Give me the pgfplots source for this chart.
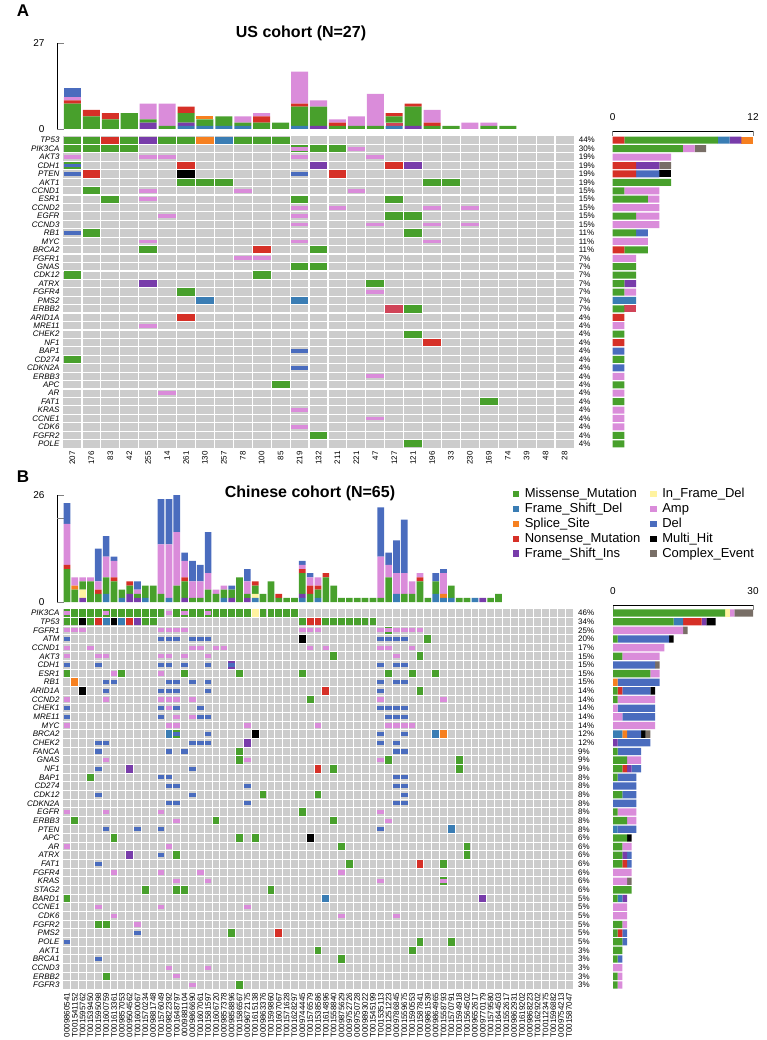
\documentclass[border=0pt]{standalone}
\usepackage{fontspec}
\setmainfont{Liberation Sans}
\usepackage{pgfplots}
\usepackage{pgfplotstable}
\pgfplotsset{compat=1.18}

\definecolor{mis}{RGB}{72,160,44}
\definecolor{fsd}{RGB}{58,125,180}
\definecolor{spl}{RGB}{246,128,32}
\definecolor{non}{RGB}{214,48,39}
\definecolor{fsi}{RGB}{120,60,170}
\definecolor{ifd}{RGB}{255,243,160}
\definecolor{amp}{RGB}{218,140,218}
\definecolor{del}{RGB}{74,108,190}
\definecolor{mul}{RGB}{0,0,0}
\definecolor{cpx}{RGB}{120,110,102}
\definecolor{crim}{RGB}{208,68,88}
\definecolor{cellgray}{RGB}{204,204,204}

% cell shapes for the two matrices (full cell = SNV, thin bar = CNV)
\pgfdeclareplotmark{cellA}{\pgfpathrectangle{\pgfpoint{-8.85pt}{-3.65pt}}{\pgfpoint{17.7pt}{7.3pt}}\pgfusepathqfill}
\pgfdeclareplotmark{cnvA}{\pgfpathrectangle{\pgfpoint{-8.85pt}{-1.9pt}}{\pgfpoint{17.7pt}{3.8pt}}\pgfusepathqfill}
\pgfdeclareplotmark{cellB}{\pgfpathrectangle{\pgfpoint{-3.4pt}{-3.8pt}}{\pgfpoint{6.8pt}{7.6pt}}\pgfusepathqfill}
\pgfdeclareplotmark{cnvB}{\pgfpathrectangle{\pgfpoint{-3.3pt}{-2.1pt}}{\pgfpoint{6.6pt}{4.2pt}}\pgfusepathqfill}

\pgfplotsset{
  /pgf/number format/assume math mode=true,
  mat/.style={scale only axis, axis background/.style={fill=cellgray},
    axis line style={draw=none}, tick style={draw=none},
    major tick length=0pt, minor tick length=0pt,
    xminorgrids=true, yminorgrids=true, xmajorgrids=false, ymajorgrids=false,
    minor grid style={white, line width=1.1pt},
    yticklabel style={font=\fontsize{8}{9.6}\selectfont\itshape},
    xticklabel style={font=\fontsize{8}{9.6}\selectfont, rotate=90, anchor=east}},
  topbar/.style={scale only axis, ybar stacked, axis x line=none, axis y line*=left,
    every non boxed y axis/.append style={ytick align=outside},
    major tick length=7pt, y axis line style={line width=0.9pt}, ytick style={line width=0.9pt},
    yticklabel style={font=\fontsize{10}{12}\selectfont, xshift=-9pt}},
  rbar/.style={scale only axis, xbar stacked, axis x line*=top, axis y line*=left,
    every non boxed x axis/.append style={xtick align=outside},
    every non boxed y axis/.append style={ytick align=inside},
    y axis line style={draw=none}, ytick style={draw=none},
    major tick length=5pt, x axis line style={line width=0.9pt}, xtick style={line width=0.9pt},
    xticklabel style={font=\fontsize{10}{12}\selectfont, yshift=7pt},
    yticklabel style={font=\fontsize{8}{9.6}\selectfont, anchor=west}},
}

\pgfplotstableread{
c fsd fsi crim mis non spl amp del
1 0 0 0 8 1 0 1 3
2 0 0 0 4 2 0 0 0
3 0 0 0 3 2 0 0 0
4 0 0 0 5 0 0 0 0
5 0 2 0 1 0 0 5 0
6 0 0 0 1 0 0 7 0
7 1 1 0 3 2 0 0 0
8 1 0 0 2 0 1 0 0
9 1 0 0 3 0 0 0 0
10 1 0 0 1 0 0 2 0
11 0 0 0 2 2 0 1 0
12 0 0 0 2 0 0 0 0
13 1 0 0 6 1 0 10 0
14 0 1 0 6 0 0 2 0
15 0 0 0 1 1 0 1 0
16 0 0 0 1 0 0 3 0
17 0 0 0 1 0 0 10 0
18 1 0 1 2 1 0 0 0
19 0 1 0 6 1 0 0 0
20 0 0 0 1 1 0 4 0
21 0 0 0 1 0 0 0 0
22 0 0 0 0 0 0 2 0
23 0 0 0 1 0 0 1 0
24 0 0 0 1 0 0 0 0
25 0 0 0 0 0 0 0 0
26 0 0 0 0 0 0 0 0
27 0 0 0 0 0 0 0 0
}\topA

\pgfplotstableread{
r non mis crim fsd fsi spl amp del mul cpx
1 1 8 0 1 1 1 0 0 0 0
2 0 6 0 0 0 0 1 0 0 1
3 0 0 0 0 0 0 5 0 0 0
4 2 0 0 0 2 0 0 0 0 1
5 2 0 0 0 0 0 0 2 1 0
6 0 5 0 0 0 0 0 0 0 0
7 0 1 0 0 0 0 3 0 0 0
8 0 3 0 0 0 0 1 0 0 0
9 0 0 0 0 0 0 4 0 0 0
10 0 2 0 0 0 0 2 0 0 0
11 0 0 0 0 0 0 4 0 0 0
12 0 2 0 0 0 0 0 1 0 0
13 0 0 0 0 0 0 3 0 0 0
14 1 2 0 0 0 0 0 0 0 0
15 0 0 0 0 0 0 2 0 0 0
16 0 2 0 0 0 0 0 0 0 0
17 0 2 0 0 0 0 0 0 0 0
18 0 1 0 0 1 0 0 0 0 0
19 0 1 0 0 0 0 1 0 0 0
20 0 0 0 2 0 0 0 0 0 0
21 0 1 1 0 0 0 0 0 0 0
22 1 0 0 0 0 0 0 0 0 0
23 0 0 0 0 0 0 1 0 0 0
24 0 1 0 0 0 0 0 0 0 0
25 1 0 0 0 0 0 0 0 0 0
26 0 0 0 0 0 0 0 1 0 0
27 0 1 0 0 0 0 0 0 0 0
28 0 0 0 0 0 0 0 1 0 0
29 0 0 0 0 0 0 1 0 0 0
30 0 1 0 0 0 0 0 0 0 0
31 0 0 0 0 0 0 1 0 0 0
32 0 1 0 0 0 0 0 0 0 0
33 0 0 0 0 0 0 1 0 0 0
34 0 0 0 0 0 0 1 0 0 0
35 0 0 0 0 0 0 1 0 0 0
36 0 1 0 0 0 0 0 0 0 0
37 0 1 0 0 0 0 0 0 0 0
}\rbA

\pgfplotstableread{
c fsd fsi ifd mis non spl amp del
1 0 0 0 8 1 0 10 5
2 0 0 0 3 0 1 2 0
3 0 1 2 2 0 0 1 0
4 0 0 0 5 0 0 1 0
5 0 0 0 2 1 0 2 8
6 2 0 0 4 0 0 5 5
7 0 0 0 5 1 0 4 1
8 1 0 0 2 0 0 0 0
9 0 2 0 2 1 0 0 0
10 0 1 0 1 0 0 1 2
11 1 0 0 3 0 0 0 0
12 0 0 0 4 0 0 0 0
13 0 0 0 2 0 0 12 11
14 1 0 0 0 0 0 13 11
15 0 0 0 4 0 0 13 9
16 0 1 0 4 1 0 4 2
17 0 0 0 1 0 0 4 5
18 0 0 0 1 0 0 4 4
19 0 0 0 3 0 0 4 10
20 0 0 0 2 0 0 1 0
21 1 0 0 2 0 0 1 0
22 0 1 0 2 0 0 0 1
23 0 0 0 6 0 0 0 0
24 0 1 0 1 0 0 3 3
25 1 0 1 2 1 0 0 0
26 0 0 0 2 0 0 0 0
27 0 0 0 5 0 0 0 0
28 0 0 0 1 1 0 0 0
29 0 0 0 1 0 0 0 0
30 0 0 0 1 0 0 0 0
31 1 1 0 5 1 0 1 1
32 0 0 0 2 2 0 2 1
33 1 0 0 2 1 0 2 0
34 0 0 0 6 1 0 0 0
35 0 0 0 4 0 0 0 0
36 0 0 0 1 0 0 0 0
37 0 0 0 1 0 0 0 0
38 0 0 0 1 0 0 0 0
39 0 0 0 1 0 0 0 0
40 0 0 0 1 0 0 0 0
41 0 0 0 1 0 0 10 12
42 0 0 0 6 0 0 3 3
43 2 0 0 0 0 0 5 8
44 0 0 0 2 0 0 5 13
45 0 0 0 2 0 0 3 0
46 0 0 0 5 1 0 1 0
47 0 0 0 1 0 0 0 0
48 2 0 0 3 0 0 0 2
49 1 0 0 0 0 1 5 1
50 1 0 0 3 0 0 0 0
51 0 0 0 1 0 0 0 0
52 0 0 0 1 0 0 0 0
53 1 0 0 0 0 0 0 0
54 0 1 0 0 0 0 0 0
55 0 0 0 1 0 0 0 0
56 0 0 0 2 0 0 0 0
57 0 0 0 0 0 0 0 0
58 0 0 0 0 0 0 0 0
59 0 0 0 0 0 0 0 0
60 0 0 0 0 0 0 0 0
61 0 0 0 0 0 0 0 0
62 0 0 0 0 0 0 0 0
63 0 0 0 0 0 0 0 0
64 0 0 0 0 0 0 0 0
65 0 0 0 0 0 0 0 0
}\topB

\pgfplotstableread{
r mis fsd spl non fsi ifd amp del mul cpx
1 24 0 0 0 0 1 1 0 0 4
2 13 2 0 4 1 0 0 0 2 0
3 0 0 0 0 0 0 15 0 0 1
4 1 0 0 0 0 0 0 11 1 0
5 0 0 0 0 0 0 11 0 0 0
6 2 0 0 0 0 0 8 0 0 0
7 0 0 0 0 0 0 0 9 0 1
8 8 0 0 0 0 0 2 0 0 0
9 0 0 1 0 0 0 0 9 0 0
10 1 0 0 1 0 0 0 6 1 0
11 1 0 0 0 0 0 8 0 0 0
12 0 0 0 0 0 0 1 8 0 0
13 0 0 0 0 0 0 2 7 0 0
14 0 0 0 0 0 0 9 0 0 0
15 0 2 1 0 0 0 0 3 1 1
16 0 0 0 0 1 0 0 7 0 0
17 1 0 0 0 0 0 0 5 0 0
18 3 0 0 0 0 0 3 0 0 0
19 2 0 0 1 1 0 0 2 0 0
20 1 0 0 0 0 0 0 4 0 0
21 0 0 0 0 0 0 0 5 0 0
22 2 0 0 0 0 0 0 3 0 0
23 0 0 0 0 0 0 0 5 0 0
24 1 0 0 0 0 0 4 0 0 0
25 3 0 0 0 0 0 2 0 0 0
26 0 1 0 0 0 0 0 4 0 0
27 3 0 0 0 0 0 0 0 1 0
28 2 0 0 0 0 0 2 0 0 0
29 2 0 0 0 1 0 0 1 0 0
30 2 0 0 1 0 0 0 1 0 0
31 0 0 0 0 0 0 4 0 0 0
32 0 0 0 0 0 0 3 0 0 1
33 4 0 0 0 0 0 0 0 0 0
34 1 1 0 0 1 0 0 0 0 0
35 0 0 0 0 0 0 3 0 0 0
36 0 0 0 0 0 0 3 0 0 0
37 2 0 0 0 0 0 1 0 0 0
38 1 0 0 1 0 0 0 1 0 0
39 2 0 0 0 0 0 0 1 0 0
40 2 0 0 0 0 0 0 0 0 0
41 1 0 0 0 0 0 0 1 0 0
42 0 0 0 0 0 0 2 0 0 0
43 1 0 0 0 0 0 1 0 0 0
44 1 0 0 0 0 0 1 0 0 0
}\rbB

\begin{document}
\begin{tikzpicture}
\useasboundingbox (0pt,0pt) rectangle (766pt,-1040pt);

% ---------------- panel A ----------------
\node[font=\bfseries\fontsize{17}{20}\selectfont] at (23pt,-11pt) {A};
\node[font=\bfseries\fontsize{16}{19}\selectfont] at (301pt,-33pt) {US cohort (N=27)};

\begin{axis}[topbar, at={(57pt,-129pt)}, anchor=south west, width=517pt, height=86pt,
  xmin=0.183, xmax=27.5, ymin=0, ymax=27, ytick={0,27}, bar width=0.9]
\addplot[fill=fsd, draw=none] table[x=c,y=fsd]{\topA};
\addplot[fill=fsi, draw=none] table[x=c,y=fsi]{\topA};
\addplot[fill=crim, draw=none] table[x=c,y=crim]{\topA};
\addplot[fill=mis, draw=none] table[x=c,y=mis]{\topA};
\addplot[fill=non, draw=none] table[x=c,y=non]{\topA};
\addplot[fill=spl, draw=none] table[x=c,y=spl]{\topA};
\addplot[fill=amp, draw=none] table[x=c,y=amp]{\topA};
\addplot[fill=del, draw=none] table[x=c,y=del]{\topA};
\end{axis}

\begin{axis}[mat, at={(63pt,-136pt)}, anchor=north west, width=511pt, height=312pt,
  xmin=0.5, xmax=27.5, ymin=-37.5, ymax=-0.5,
  xtick={1,...,27},
  xticklabels={207,176,83,42,255,14,261,130,257,78,100,85,219,132,211,221,47,127,121,196,33,230,169,74,39,48,28},
  minor xtick={1.5,2.5,...,26.5},
  ytick={-37,-36,...,-1},
  yticklabels={POLE,FGFR2,CDK6,CCNE1,KRAS,FAT1,AR,APC,ERBB3,CDKN2A,CD274,BAP1,NF1,CHEK2,MRE11,ARID1A,ERBB2,PMS2,FGFR4,ATRX,CDK12,GNAS,FGFR1,BRCA2,MYC,RB1,CCND3,EGFR,CCND2,ESR1,CCND1,AKT1,PTEN,CDH1,AKT3,PIK3CA,TP53},
  minor ytick={-36.5,-35.5,...,-1.5},
  minor grid style={white, line width=1.2pt}]
\addplot[only marks, mark=cellA, mis, forget plot] coordinates {
 (1,-1)(2,-1)(4,-1)(6,-1)(7,-1)(10,-1)(11,-1)(12,-1)
 (1,-2)(2,-2)(3,-2)(4,-2)(13,-2)(14,-2)(15,-2)
 (1,-4) (7,-6)(8,-6)(9,-6)(20,-6)(21,-6) (2,-7) (3,-8)(13,-8)(18,-8)
 (18,-10)(19,-10) (2,-12)(19,-12) (5,-14)(14,-14) (13,-16)(14,-16)
 (1,-17)(11,-17) (17,-18) (7,-19) (19,-21) (19,-24) (1,-27) (12,-30)
 (23,-32) (14,-36) (19,-37)};
\addplot[only marks, mark=cellA, non, forget plot] coordinates {
 (3,-1)(7,-4)(18,-4)(2,-5)(15,-5)(11,-14)(7,-22)(20,-25)};
\addplot[only marks, mark=cellA, fsi, forget plot] coordinates {(5,-1)(14,-4)(19,-4)(5,-18)};
\addplot[only marks, mark=cellA, spl, forget plot] coordinates {(8,-1)};
\addplot[only marks, mark=cellA, fsd, forget plot] coordinates {(9,-1)(8,-20)(13,-20)};
\addplot[only marks, mark=cellA, crim, forget plot] coordinates {(18,-21)};
\addplot[only marks, mark=cellA, mul, forget plot] coordinates {(7,-5)};
\addplot[only marks, mark=cnvA, amp, forget plot] coordinates {
 (13,-2)(16,-2)(1,-3)(5,-3)(6,-3)(13,-3)(17,-3)(5,-7)(10,-7)(16,-7)(5,-8)
 (13,-9)(15,-9)(20,-9)(22,-9)(6,-10)(13,-10)(13,-11)(17,-11)(20,-11)(22,-11)
 (5,-13)(13,-13)(20,-13)(10,-15)(11,-15)(17,-19)(5,-23)(17,-29)(6,-31)
 (13,-33)(17,-34)(13,-35)};
\addplot[only marks, mark=cnvA, del, forget plot] coordinates {
 (1,-4)(1,-5)(13,-5)(1,-12)(13,-26)(13,-28)};
\end{axis}

\begin{axis}[rbar, at={(612.7pt,-131pt)}, anchor=north west, width=140.3pt, height=317pt,
  xmin=0, xmax=12, ymin=-37.5, ymax=0.093, xtick={0,12}, bar width=0.83,
  ytick={-37,-36,...,-1},
  yticklabels={4\%,4\%,4\%,4\%,4\%,4\%,4\%,4\%,4\%,4\%,4\%,4\%,4\%,4\%,4\%,4\%,7\%,7\%,7\%,7\%,7\%,7\%,7\%,11\%,11\%,11\%,15\%,15\%,15\%,15\%,15\%,19\%,19\%,19\%,19\%,30\%,44\%},
  yticklabel style={xshift=-37.4pt}]
\addplot[fill=non, draw=none] table[x=non, y expr=-\thisrow{r}]{\rbA};
\addplot[fill=mis, draw=none] table[x=mis, y expr=-\thisrow{r}]{\rbA};
\addplot[fill=crim, draw=none] table[x=crim, y expr=-\thisrow{r}]{\rbA};
\addplot[fill=fsd, draw=none] table[x=fsd, y expr=-\thisrow{r}]{\rbA};
\addplot[fill=fsi, draw=none] table[x=fsi, y expr=-\thisrow{r}]{\rbA};
\addplot[fill=spl, draw=none] table[x=spl, y expr=-\thisrow{r}]{\rbA};
\addplot[fill=amp, draw=none] table[x=amp, y expr=-\thisrow{r}]{\rbA};
\addplot[fill=del, draw=none] table[x=del, y expr=-\thisrow{r}]{\rbA};
\addplot[fill=mul, draw=none] table[x=mul, y expr=-\thisrow{r}]{\rbA};
\addplot[fill=cpx, draw=none] table[x=cpx, y expr=-\thisrow{r}]{\rbA};
\end{axis}

% ---------------- panel B ----------------
\node[font=\bfseries\fontsize{17}{20}\selectfont] at (23pt,-477pt) {B};
\node[font=\bfseries\fontsize{16}{19}\selectfont] at (310pt,-493pt) {Chinese cohort (N=65)};

\begin{axis}[topbar, at={(57pt,-602pt)}, anchor=south west, width=516pt, height=107pt,
  xmin=-0.265, xmax=65.5, ymin=0, ymax=26, ytick={0,26}, bar width=0.85,
  extra y ticks={20.3}, extra y tick labels={}]
\addplot[fill=fsd, draw=none] table[x=c,y=fsd]{\topB};
\addplot[fill=fsi, draw=none] table[x=c,y=fsi]{\topB};
\addplot[fill=ifd, draw=none] table[x=c,y=ifd]{\topB};
\addplot[fill=mis, draw=none] table[x=c,y=mis]{\topB};
\addplot[fill=non, draw=none] table[x=c,y=non]{\topB};
\addplot[fill=spl, draw=none] table[x=c,y=spl]{\topB};
\addplot[fill=amp, draw=none] table[x=c,y=amp]{\topB};
\addplot[fill=del, draw=none] table[x=c,y=del]{\topB};
\end{axis}

\begin{axis}[mat, at={(63pt,-608.7pt)}, anchor=north west, width=510pt, height=380.6pt,
  xmin=0.5, xmax=65.5, ymin=-44.5, ymax=-0.5,
  xtick={1,...,65},
  xticklabels={0009860541,T001541152,T001595762,T001539450,T001595098,T001600759,T001613361,0009857053,0009504562,T001600067,T001570234,0009881748,T001576049,0009822392,T001648797,0009881104,0009866690,T001607061,T001581597,T001606720,0009857378,0009858896,T001586567,0009672175,T001615138,0009863376,T001599860,T001607067,T001571628,T001628297,0009744445,T001576579,T001538586,T001614896,T001558840,0009875629,0009752726,0009750728,0009893022,T001545199,T001535113,T001251223,0009786845,T001559675,T001590553,T001587841,0009861539,0009864965,T001558793,T001570791,T001594918,T001564502,0009652617,0009770179,T001579580,T001644503,T001552617,0009862931,T001619202,0009868223,T001629202,T001123475,T001596882,0009754213,T001587047},
  minor xtick={1.5,2.5,...,64.5},
  ytick={-44,-43,...,-1},
  yticklabels={FGFR3,ERBB2,CCND3,BRCA1,AKT1,POLE,PMS2,FGFR2,CDK6,CCNE1,BARD1,STAG2,KRAS,FGFR4,FAT1,ATRX,AR,APC,PTEN,ERBB3,EGFR,CDKN2A,CDK12,CD274,BAP1,NF1,GNAS,FANCA,CHEK2,BRCA2,MYC,MRE11,CHEK1,CCND2,ARID1A,RB1,ESR1,CDH1,AKT3,CCND1,ATM,FGFR1,TP53,PIK3CA},
  minor ytick={-43.5,-42.5,...,-1.5},
  minor grid style={white, line width=1pt},
  legend columns=2, legend cell align=left,
  legend image code/.code={\fill (0pt,-2.7pt) rectangle (5.4pt,2.7pt);},
  legend style={at={(rel axis cs:0.882,1.3224)}, anchor=north west, draw=none, fill=none,
    font=\fontsize{13}{15}\selectfont, inner sep=0pt, row sep=0pt,
    /tikz/every odd column/.append style={column sep=4pt},
    /tikz/every even column/.append style={column sep=8pt}}]
\addplot[only marks, mark=cellB, mis, forget plot] coordinates {
 (1,-1)(2,-1)(3,-1)(4,-1)(5,-1)(6,-1)(7,-1)(8,-1)(9,-1)(10,-1)(11,-1)(12,-1)(13,-1)
 (15,-1)(16,-1)(17,-1)(18,-1)(19,-1)(20,-1)(21,-1)(22,-1)(23,-1)(24,-1)(26,-1)
 (27,-1)(28,-1)(29,-1)(30,-1)
 (1,-2)(2,-2)(4,-2)(11,-2)(12,-2)(31,-2)(34,-2)(35,-2)(36,-2)(37,-2)(38,-2)(39,-2)(40,-2)
 (42,-3) (47,-4) (35,-6)(46,-6)
 (1,-8)(8,-8)(16,-8)(23,-8)(31,-8)(42,-8)(45,-8)(48,-8)
 (46,-10) (32,-11) (15,-15) (23,-17) (23,-18)(42,-18)(51,-18) (35,-19)(51,-19)
 (4,-20) (26,-22)(33,-22) (31,-24) (2,-25)(20,-25)(35,-25) (7,-27)(23,-27)(25,-27)
 (36,-28)(52,-28) (15,-29)(52,-29) (37,-30)(49,-30) (49,-32)
 (11,-33)(15,-33)(16,-33)(27,-33) (1,-34) (5,-37)(6,-37) (22,-38) (46,-39)(50,-39)
 (33,-40)(45,-40) (36,-41) (6,-43) (23,-44)};
\addplot[only marks, mark=cellB, non, forget plot] coordinates {
 (5,-2)(9,-2)(32,-2)(33,-2)(34,-10)(33,-19)(46,-30)(28,-38)};
\addplot[only marks, mark=cellB, fsd, forget plot] coordinates {
 (6,-2)(8,-2)(14,-15)(48,-15)(50,-26)(34,-34)};
\addplot[only marks, mark=cellB, fsi, forget plot] coordinates {
 (10,-2)(22,-7)(24,-16)(9,-19)(9,-29)(54,-34)};
\addplot[only marks, mark=cellB, spl, forget plot] coordinates {(2,-9)(49,-15)};
\addplot[only marks, mark=cellB, ifd, forget plot] coordinates {(25,-1)};
\addplot[only marks, mark=cellB, mul, forget plot] coordinates {
 (3,-2)(7,-2)(31,-4)(3,-10)(25,-15)(32,-27)};
\addplot[only marks, mark=cnvB, amp, forget plot] coordinates {
 (1,-1)(6,-1)(14,-1)(16,-1)(19,-1)
 (1,-3)(2,-3)(3,-3)(13,-3)(14,-3)(15,-3)(16,-3)(31,-3)(32,-3)(33,-3)(41,-3)(42,-3)(43,-3)(44,-3)(45,-3)(46,-3)
 (1,-5)(4,-5)(17,-5)(18,-5)(20,-5)(21,-5)(32,-5)(34,-5)(41,-5)(42,-5)(45,-5)
 (1,-6)(5,-6)(6,-6)(13,-6)(14,-6)(16,-6)(19,-6)(43,-6)
 (7,-8)(13,-8)
 (1,-11)(6,-11)(13,-11)(14,-11)(15,-11)(17,-11)(41,-11)(49,-11)
 (14,-12) (15,-13)(17,-13)
 (1,-14)(14,-14)(15,-14)(24,-14)(33,-14)(42,-14)(43,-14)(44,-14)(45,-14)
 (6,-18)(24,-18)(41,-18) (1,-24)(6,-24)(13,-24)(41,-24) (15,-25)(42,-25)
 (1,-28)(14,-28) (7,-31)(13,-31)(18,-31)(36,-31) (15,-32)(19,-32)(41,-32)(49,-32)
 (5,-35)(13,-35)(24,-35) (7,-36)(36,-36)(43,-36) (10,-37) (14,-42)(19,-42)
 (15,-43) (17,-44)};
\addplot[only marks, mark=cnvB, del, forget plot] coordinates {
 (1,-4)(13,-4)(14,-4)(15,-4)(17,-4)(18,-4)(19,-4)(41,-4)(42,-4)(43,-4)(44,-4)
 (1,-7)(5,-7)(13,-7)(14,-7)(16,-7)(19,-7)(22,-7)(41,-7)(43,-7)(44,-7)
 (6,-9)(7,-9)(14,-9)(15,-9)(17,-9)(19,-9)(41,-9)(43,-9)(44,-9)
 (6,-10)(13,-10)(14,-10)(15,-10)(19,-10)(41,-10)
 (1,-12)(13,-12)(15,-12)(18,-12)(41,-12)(42,-12)(43,-12)(44,-12)
 (1,-13)(13,-13)(18,-13)(19,-13)(42,-13)(43,-13)(44,-13)
 (15,-15)(19,-15)(41,-15)(44,-15)
 (5,-16)(6,-16)(17,-16)(18,-16)(19,-16)(41,-16)(43,-16)
 (5,-17)(14,-17)(16,-17)(43,-17)(44,-17)
 (5,-19)(17,-19) (13,-20)(14,-20)(43,-20)(44,-20)
 (14,-21)(15,-21)(24,-21)(43,-21)(44,-21) (5,-22)(17,-22)(44,-22)
 (14,-23)(15,-23)(24,-23)(43,-23)(44,-23) (6,-26)(10,-26)(13,-26)(41,-26)
 (13,-29) (5,-30) (10,-38) (1,-39) (5,-41)};
\addlegendimage{mis}\addlegendentry{Missense\_Mutation}
\addlegendimage{ifd}\addlegendentry{In\_Frame\_Del}
\addlegendimage{fsd}\addlegendentry{Frame\_Shift\_Del}
\addlegendimage{amp}\addlegendentry{Amp}
\addlegendimage{spl}\addlegendentry{Splice\_Site}
\addlegendimage{del}\addlegendentry{Del}
\addlegendimage{non}\addlegendentry{Nonsense\_Mutation}
\addlegendimage{mul}\addlegendentry{Multi\_Hit}
\addlegendimage{fsi}\addlegendentry{Frame\_Shift\_Ins}
\addlegendimage{cpx}\addlegendentry{Complex\_Event}
\end{axis}

\begin{axis}[rbar, at={(613pt,-605pt)}, anchor=north west, width=140pt, height=384.3pt,
  xmin=0, xmax=30, ymin=-44.5, ymax=-0.072, xtick={0,30}, bar width=0.85,
  ytick={-44,-43,...,-1},
  yticklabels={3\%,3\%,3\%,3\%,3\%,5\%,5\%,5\%,5\%,5\%,5\%,6\%,6\%,6\%,6\%,6\%,6\%,6\%,8\%,8\%,8\%,8\%,8\%,8\%,8\%,9\%,9\%,9\%,12\%,12\%,14\%,14\%,14\%,14\%,14\%,15\%,15\%,15\%,15\%,17\%,20\%,25\%,34\%,46\%},
  yticklabel style={xshift=-38.3pt}]
\addplot[fill=mis, draw=none] table[x=mis, y expr=-\thisrow{r}]{\rbB};
\addplot[fill=fsd, draw=none] table[x=fsd, y expr=-\thisrow{r}]{\rbB};
\addplot[fill=spl, draw=none] table[x=spl, y expr=-\thisrow{r}]{\rbB};
\addplot[fill=non, draw=none] table[x=non, y expr=-\thisrow{r}]{\rbB};
\addplot[fill=fsi, draw=none] table[x=fsi, y expr=-\thisrow{r}]{\rbB};
\addplot[fill=ifd, draw=none] table[x=ifd, y expr=-\thisrow{r}]{\rbB};
\addplot[fill=amp, draw=none] table[x=amp, y expr=-\thisrow{r}]{\rbB};
\addplot[fill=del, draw=none] table[x=del, y expr=-\thisrow{r}]{\rbB};
\addplot[fill=mul, draw=none] table[x=mul, y expr=-\thisrow{r}]{\rbB};
\addplot[fill=cpx, draw=none] table[x=cpx, y expr=-\thisrow{r}]{\rbB};
\end{axis}
\end{tikzpicture}
\end{document}
